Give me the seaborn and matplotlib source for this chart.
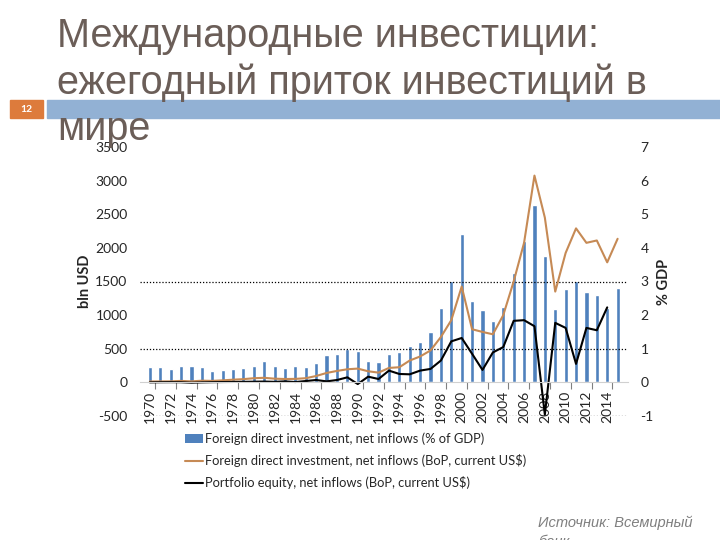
"""
Slide chart: world FDI and portfolio equity inflows, 1970-2015.
"""

import pandas as pd
import seaborn as sns
import matplotlib.pyplot as plt
from matplotlib.patches import Patch, Rectangle
from matplotlib.lines import Line2D

# Data
years = list(range(1970, 2016))

# FDI, net inflows (% of GDP) -> bars, right axis
fdi_gdp = [0.47, 0.47, 0.41, 0.50, 0.50, 0.47, 0.35, 0.38, 0.41, 0.44,
           0.50, 0.65, 0.50, 0.44, 0.50, 0.47, 0.59, 0.80, 0.83, 1.00,
           0.93, 0.65, 0.62, 0.83, 0.90, 1.07, 1.19, 1.49, 2.20, 3.02,
           4.40, 2.42, 2.15, 1.82, 2.24, 3.25, 4.20, 5.27, 3.77, 2.18,
           2.78, 3.02, 2.69, 2.60, 2.22, 2.81]

# FDI, net inflows (BoP, current US$), bln -> left axis
fdi_usd = [13, 14, 15, 22, 15, 25, 22, 30, 40, 48,
           62, 68, 55, 50, 52, 62, 95, 140, 170, 195,
           205, 165, 145, 215, 225, 325, 385, 475, 675, 925,
           1425, 790, 750, 715, 1000, 1500, 2075, 3075, 2450, 1350,
           1925, 2290, 2075, 2110, 1785, 2135]

# Portfolio equity, net inflows (BoP, current US$), bln -> left axis (ends 2014)
portfolio = [0, 2, 3, 2, -5, 0, 3, 5, 6, 8,
             10, 12, 8, 15, 5, 20, 35, 15, 35, 75,
             -25, 85, 50, 175, 125, 120, 175, 200, 325, 610,
             660, 425, 185, 445, 525, 915, 925, 835, -480, 885,
             810, 275, 810, 775, 1115]

label_years = list(range(1970, 2015, 2))

legend_labels = [
    'Foreign direct investment, net inflows (% of GDP)',
    'Foreign direct investment, net inflows (BoP, current US$)',
    'Portfolio equity, net inflows (BoP, current US$)',
]

title_lines = ['Международные инвестиции:', 'ежегодный приток инвестиций в', 'мире']
source_lines = ['Источник: Всемирный', 'банк']

bars_df = pd.DataFrame({'Year': years, 'FDI_GDP': fdi_gdp, 'FDI_USD': fdi_usd})
port_df = pd.DataFrame({'Year': years[:len(portfolio)], 'Portfolio': portfolio})

# Colours
bar_color = '#4f81bd'
fdi_line_color = '#c68a55'
port_line_color = '#000000'
title_color = '#6b5e58'

sns.set_theme(style='white')
plt.rcParams['font.family'] = ['Lato', 'DejaVu Sans']
plt.rcParams['axes.unicode_minus'] = False  # Excel style hyphen minus

fig = plt.figure(figsize=(7.2, 5.4), dpi=100)

# Slide decoration: blue band and page number box
fig.patches.append(Rectangle((47 / 720, 1 - 118 / 540), 673 / 720, 18 / 540,
                             transform=fig.transFigure, color='#92b1d4', zorder=0))
fig.patches.append(Rectangle((10 / 720, 1 - 118 / 540), 33 / 720, 18 / 540,
                             transform=fig.transFigure, color='#dd7b3c', zorder=0))
fig.text(26.5 / 720, 1 - 109 / 540, '12', color='white', fontsize=7.5, fontweight='bold',
         ha='center', va='center')

# Title, three lines
for i, line in enumerate(title_lines):
    fig.text(57 / 720, 1 - (47 + 46.5 * i) / 540, line, color=title_color, fontsize=28.5,
             family=['Liberation Sans', 'DejaVu Sans'], ha='left', va='baseline', zorder=5)

# Axes: bars on the back (right axis), lines on the front (left axis)
ax = fig.add_axes([140 / 720, 1 - 416 / 540, 488 / 720, 269 / 540])
ax2 = ax.twinx()
ax.set_zorder(ax2.get_zorder() + 1)
ax.patch.set_visible(False)

sns.barplot(data=bars_df, x='Year', y='FDI_GDP', native_scale=True, width=0.4,
            color=bar_color, saturation=1, ax=ax2)
sns.lineplot(data=bars_df, x='Year', y='FDI_USD', color=fdi_line_color, linewidth=1.5, ax=ax)
sns.lineplot(data=port_df, x='Year', y='Portfolio', color=port_line_color, linewidth=1.5, ax=ax)

ax.set_ylim(-500, 3500)
ax2.set_ylim(-1, 7)
ax.set_xlim(1969.05, 2016.0)

# Dotted gridlines as on the slide
for yv in [-500, 500, 1500]:
    ax.axhline(yv, color='black', linestyle=(0, (1, 1.5)), linewidth=0.9, zorder=0)

ax.set_yticks(range(-500, 3501, 500))
ax2.set_yticks(range(-1, 8))
ax.tick_params(axis='y', length=0, pad=9, labelsize=10)
ax2.tick_params(axis='y', length=0, pad=9, labelsize=10)

ax2.tick_params(axis='x', which='both', length=0, labelbottom=False)
ax.set_xticks(label_years)
ax.set_xticklabels([str(y) for y in label_years])
ax.set_xticks([y + 0.5 for y in label_years], minor=True)
ax.tick_params(axis='x', which='major', length=0, pad=6, labelsize=10, labelrotation=90)
ax.tick_params(axis='x', which='minor', length=5, width=0.8, color='#808080', bottom=True)
for lbl in ax.get_xticklabels():
    lbl.set_rotation(90)

for a in (ax, ax2):
    for side in ['top', 'left', 'right']:
        a.spines[side].set_visible(False)
ax.spines['bottom'].set_position(('data', 0))
ax.spines['bottom'].set_color('#d0d0d0')
ax.spines['bottom'].set_linewidth(0.8)
ax2.spines['bottom'].set_visible(False)

ax.set_xlabel('')
ax2.set_xlabel('')
ax.set_ylabel('bln USD', fontsize=10.5, fontweight='bold', labelpad=2)
ax2.set_ylabel('% GDP', fontsize=10.5, fontweight='bold', labelpad=2, rotation=90)

# Legend below the chart
handles = [
    Patch(facecolor=bar_color, edgecolor='none'),
    Line2D([], [], color=fdi_line_color, linewidth=1.5),
    Line2D([], [], color=port_line_color, linewidth=1.5),
]
fig.legend(handles, legend_labels, loc='upper left', bbox_to_anchor=(173 / 720, 1 - 421 / 540),
           frameon=False, fontsize=9.3, handlelength=1.4, handletextpad=0.2, labelspacing=0.7)

# Source note, cut off at the bottom like the slide
for i, line in enumerate(source_lines):
    fig.text(538 / 720, 1 - (527 + 19 * i) / 540, line, color='#7f7f7f', fontsize=10.5,
             style='italic', family=['Liberation Sans', 'DejaVu Sans'], va='baseline')

plt.savefig('out.png', dpi=100)
